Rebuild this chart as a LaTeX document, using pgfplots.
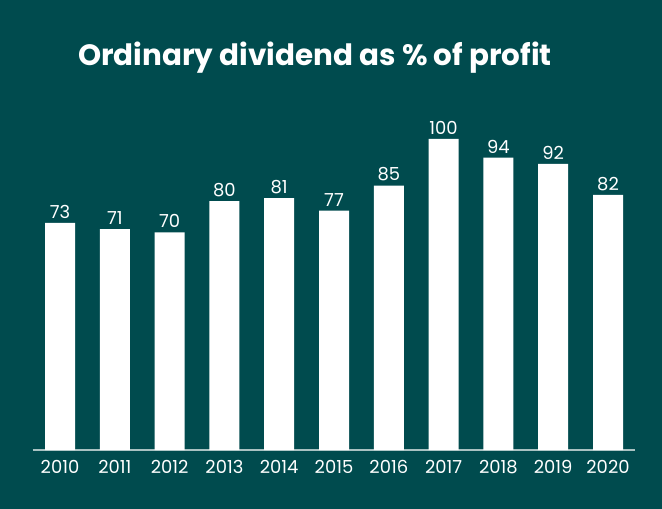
\documentclass[border=0pt]{standalone}
\usepackage{fontspec}
\setmainfont{Poppins}
\usepackage{pgfplots}
\pgfplotsset{compat=1.18}
\definecolor{bg}{HTML}{004B4E}
\definecolor{axgray}{HTML}{A9C2C2}
\begin{document}
\begin{tikzpicture}
\fill[bg] (-32.6bp,-59bp) rectangle (629.4bp,450bp);
\begin{axis}[
  at={(0,0)}, anchor=south west,
  scale only axis,
  width=602.8bp, height=373.2bp,
  xmin=-0.5, xmax=10.5, ymin=0, ymax=120,
  axis x line*=bottom, axis y line=none,
  x axis line style={draw=axgray, line width=1.2bp},
  ybar, bar width=30bp,
  xtick={0,...,10},
  xticklabels={2010,2011,2012,2013,2014,2015,2016,2017,2018,2019,2020},
  major tick length=0pt,
  xticklabel style={text=white, font=\fontsize{18}{20}\selectfont, yshift=-6.5bp},
  /pgf/number format/assume math mode=true,
  nodes near coords,
  every node near coord/.append style={text=white, font=\fontsize{18}{20}\selectfont, yshift=1bp},
  clip=false,
]
\addplot[fill=white, draw=none] coordinates {
  (0,73) (1,71) (2,70) (3,80) (4,81) (5,77) (6,85) (7,100) (8,94) (9,92) (10,82)
};
\end{axis}
\node[text=white, font=\bfseries\fontsize{29.5}{34}\selectfont] at (282.4bp,392bp) {Ordinary dividend as \% of profit};
\end{tikzpicture}
\end{document}
